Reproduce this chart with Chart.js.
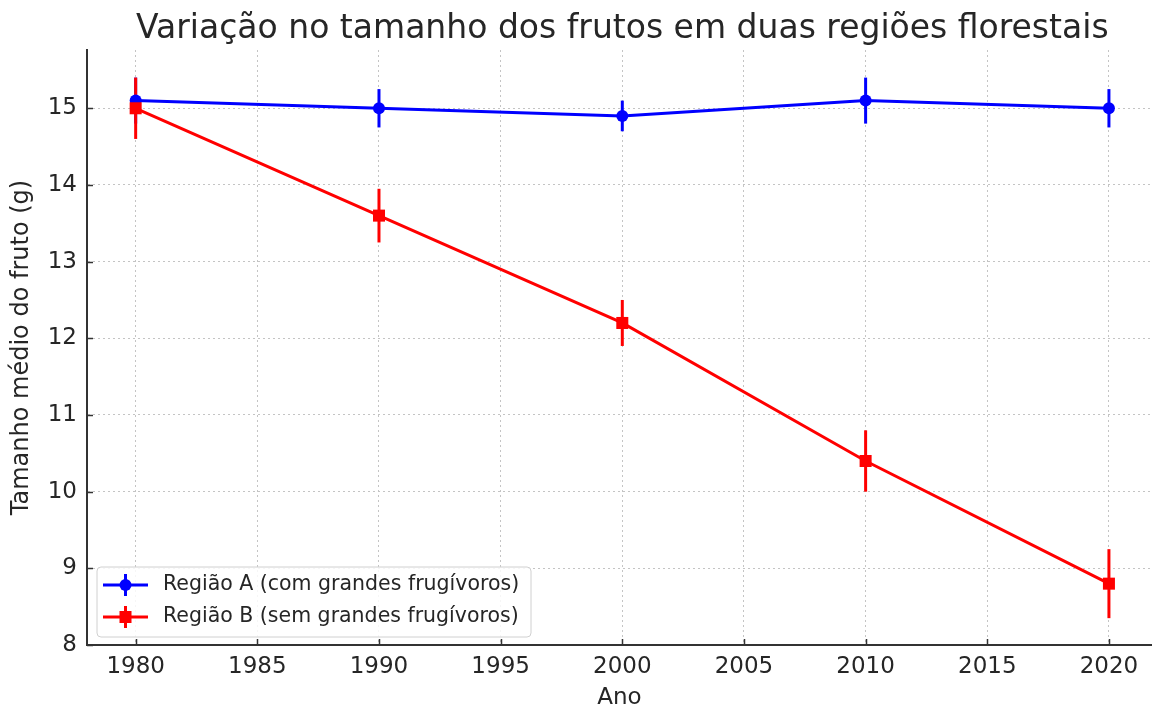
<!DOCTYPE html>
<html lang="pt">
<head>
<meta charset="utf-8">
<title>Variação no tamanho dos frutos</title>
<script src="https://cdn.jsdelivr.net/npm/chart.js@4.4.1/dist/chart.umd.min.js"></script>
<style>
  html, body { margin:0; padding:0; background:#fff; overflow:hidden; }
  #wrap { position:relative; width:1152px; height:708px; }
</style>
</head>
<body>
<div id="wrap"><canvas id="chart"></canvas></div>
<script>
/* ---- data ---- */
const years = [1980, 1990, 2000, 2010, 2020];
const regiaoA = [15.1, 15.0, 14.9, 15.1, 15.0];
const erroA = [0.3, 0.25, 0.2, 0.3, 0.25];
const regiaoB = [15.0, 13.6, 12.2, 10.4, 8.8];
const erroB = [0.4, 0.35, 0.3, 0.4, 0.45];
const xTicks = [1980, 1985, 1990, 1995, 2000, 2005, 2010, 2015, 2020];
const yTicks = [8, 9, 10, 11, 12, 13, 14, 15];

const titulo = 'Variação no tamanho dos frutos em duas regiões florestais';
const FONT = '"DejaVu Sans", sans-serif';
const TEXT = '#262626';

function pts(vals){ return years.map((y, i) => ({ x: y, y: vals[i] })); }

/* error bars, drawn through the scales */
const errorBars = {
  id: 'errorBars',
  beforeDatasetsDraw(chart){
    const {ctx, scales:{x, y}} = chart;
    ctx.save();
    chart.data.datasets.forEach(ds => {
      ctx.strokeStyle = ds.borderColor;
      ctx.lineWidth = 3;
      ds.data.forEach((p, i) => {
        const px = x.getPixelForValue(p.x);
        ctx.beginPath();
        ctx.moveTo(px, y.getPixelForValue(p.y - ds.err[i]));
        ctx.lineTo(px, y.getPixelForValue(p.y + ds.err[i]));
        ctx.stroke();
      });
    });
    ctx.restore();
  }
};

/* inward tick marks + title centred on the full axes (right edge cropped at 2022) */
const plotTitle = {
  id: 'plotTitle',
  afterDraw(chart){
    const {ctx, chartArea, scales:{x, y}} = chart;
    ctx.save();
    ctx.strokeStyle = '#333';
    ctx.lineWidth = 1.5;
    x.ticks.forEach(t => {
      const px = Math.round(x.getPixelForValue(t.value)) + 0.5;
      ctx.beginPath(); ctx.moveTo(px, chartArea.bottom); ctx.lineTo(px, chartArea.bottom - 6); ctx.stroke();
    });
    y.ticks.forEach(t => {
      const py = Math.round(y.getPixelForValue(t.value)) + 0.5;
      ctx.beginPath(); ctx.moveTo(chartArea.left, py); ctx.lineTo(chartArea.left + 6, py); ctx.stroke();
    });
    const cx = (chartArea.left + x.getPixelForValue(2022)) / 2;
    ctx.font = '33px ' + FONT;
    ctx.fillStyle = TEXT;
    ctx.textAlign = 'center';
    ctx.textBaseline = 'middle';
    ctx.fillText(titulo, cx, 29);
    ctx.restore();
  }
};

/* matplotlib-like legend, lower left inside the axes */
const boxLegend = {
  id: 'boxLegend',
  afterDraw(chart){
    const {ctx, chartArea} = chart;
    const left = chartArea.left + 10, bottom = chartArea.bottom - 8;
    const w = 434, h = 70;
    const top = bottom - h;
    ctx.save();
    ctx.fillStyle = 'rgba(255,255,255,0.85)';
    ctx.strokeStyle = '#d0d0d0';
    ctx.lineWidth = 1;
    ctx.beginPath();
    ctx.roundRect(left, top, w, h, 4);
    ctx.fill();
    ctx.stroke();
    chart.data.datasets.forEach((ds, i) => {
      const cy = top + 18 + i * 32;
      const x0 = left + 6, x1 = left + 51, mx = (x0 + x1) / 2;
      ctx.strokeStyle = ds.borderColor;
      ctx.lineWidth = 3;
      ctx.beginPath(); ctx.moveTo(x0, cy); ctx.lineTo(x1, cy); ctx.stroke();
      ctx.beginPath(); ctx.moveTo(mx, cy - 11); ctx.lineTo(mx, cy + 11); ctx.stroke();
      ctx.fillStyle = ds.borderColor;
      if (ds.pointStyle === 'rect') ctx.fillRect(mx - 6, cy - 6, 12, 12);
      else { ctx.beginPath(); ctx.arc(mx, cy, 6, 0, Math.PI * 2); ctx.fill(); }
      ctx.font = '20.5px ' + FONT;
      ctx.fillStyle = TEXT;
      ctx.textAlign = 'left';
      ctx.textBaseline = 'middle';
      ctx.fillText(ds.label, left + 66, cy);
    });
    ctx.restore();
  }
};

const ctx = document.getElementById('chart').getContext('2d');
new Chart(ctx, {
  type: 'line',
  data: {
    datasets: [
      { label: 'Região A (com grandes frugívoros)', data: pts(regiaoA), err: erroA,
        borderColor: '#0000ff', backgroundColor: '#0000ff', borderWidth: 3,
        pointStyle: 'circle', pointRadius: 6, pointBorderWidth: 0, order: 1 },
      { label: 'Região B (sem grandes frugívoros)', data: pts(regiaoB), err: erroB,
        borderColor: '#ff0000', backgroundColor: '#ff0000', borderWidth: 3,
        pointStyle: 'rect', pointRadius: 8.5, pointBorderWidth: 0, order: 0 }
    ]
  },
  options: {
    responsive: true,
    maintainAspectRatio: false,
    animation: false,
    layout: { autoPadding: false, padding: { top: 50, right: 0, bottom: 0, left: 0 } },
    plugins: { legend: { display: false }, title: { display: false }, tooltip: { enabled: false } },
    scales: {
      x: {
        type: 'linear', min: 1978, max: 2021.77,
        afterBuildTicks: s => { s.ticks = xTicks.map(v => ({ value: v })); },
        afterFit: s => { s.height = 63; s.paddingLeft = 0; s.paddingRight = 0; },
        grid: { color: '#c4c4c4', lineWidth: 1, drawTicks: false },
        border: { display: true, color: '#333', width: 2, dash: [2, 3] },
        ticks: { color: TEXT, font: { family: FONT, size: 23 }, padding: 8, maxRotation: 0,
                 callback: v => String(v) },
        title: { display: true, text: 'Ano', color: TEXT, font: { family: FONT, size: 23, lineHeight: 0.9 },
                 padding: { top: 0, bottom: 0 } }
      },
      y: {
        type: 'linear', min: 8, max: 15.76,
        afterBuildTicks: s => { s.ticks = yTicks.map(v => ({ value: v })); },
        afterFit: s => { s.width = 87; s.paddingTop = 0; s.paddingBottom = 0; },
        grid: { color: '#c4c4c4', lineWidth: 1, drawTicks: false },
        border: { display: true, color: '#333', width: 2, dash: [2, 3] },
        ticks: { color: TEXT, font: { family: FONT, size: 23 }, padding: 10,
                 callback: v => String(v) },
        title: { display: true, text: 'Tamanho médio do fruto (g)', color: TEXT,
                 font: { family: FONT, size: 24, lineHeight: 1 }, padding: { top: 10, bottom: 0 } }
      }
    }
  },
  plugins: [errorBars, plotTitle, boxLegend]
});
</script>
</body>
</html>
